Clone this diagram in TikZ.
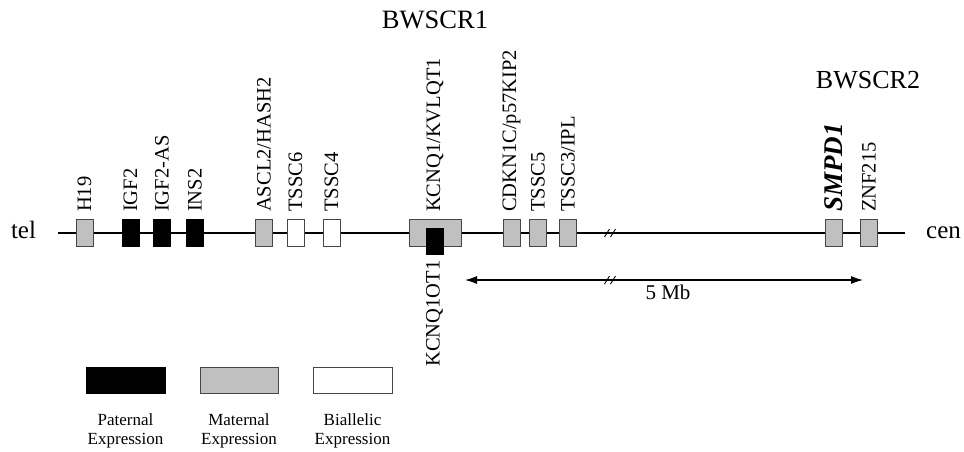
\documentclass[tikz,border=0pt]{standalone}
\usepackage{fontspec}
\setmainfont{Liberation Serif}
\usepackage{xcolor}
\usepackage{tikz}
\definecolor{maternalgray}{RGB}{192,192,192}
\definecolor{boxline}{RGB}{70,70,70}
\usetikzlibrary{arrows.meta, positioning, calc}

\tikzset{brk/.pic={\draw[line width=0.9pt] (-5.5,4) -- (-0.5,-4) (0.5,4) -- (5.5,-4);}}

\begin{document}
\begin{tikzpicture}[
    x=1pt, y=-1pt,
    gene/.style={rectangle, draw=boxline, line width=0.9pt, minimum width=17pt, minimum height=27pt, inner sep=0pt},
    paternal/.style={gene, fill=black, draw=black},
    maternal/.style={gene, fill=maternalgray},
    biallelic/.style={gene, fill=white},
    glabel/.style={rotate=90, anchor=west, inner sep=7pt, font=\fontsize{20.5}{24}\selectfont},
    region/.style={font=\fontsize{26.5}{30}\selectfont, anchor=base},
    legtext/.style={align=center, inner sep=0pt, font=\fontsize{17}{19}\selectfont}
]
    \useasboundingbox[fill=white] (0,0) rectangle (964,451);

    % chromosome
    \coordinate (chrL) at (58,233);
    \coordinate (chrR) at (905,233);
    \draw[line width=1.1pt] (chrL) -- (chrR);
    \pic at (610,233) {brk};
    \node[region, font=\fontsize{25}{28}\selectfont] (tel) at (23.5,238) {tel};
    \node[region, font=\fontsize{25}{28}\selectfont] (cen) at (943.5,238) {cen};

    % region labels
    \node[region] (bwscr1) at (435,28) {BWSCR1};
    \node[region, font=\fontsize{26}{30}\selectfont] (bwscr2) at (868,88) {BWSCR2};

    % genes
    \node[maternal, label={[glabel]90:H19}] (h19) at (84.5,233) {};
    \node[paternal, label={[glabel]90:IGF2}] (igf2) at (130.5,233) {};
    \node[paternal, label={[glabel]90:IGF2-AS}] (igf2as) at (162,233) {};
    \node[paternal, label={[glabel]90:INS2}] (ins2) at (195,233) {};
    \node[maternal, label={[glabel]90:ASCL2/HASH2}] (ascl2) at (264,233) {};
    \node[biallelic, label={[glabel]90:TSSC6}] (tssc6) at (295.5,233) {};
    \node[biallelic, label={[glabel]90:TSSC4}] (tssc4) at (331.5,233) {};
    \node[maternal, minimum width=52pt, label={[glabel]90:KCNQ1/KVLQT1}] (kcnq1) at (435,233) {};
    \node[paternal, minimum height=26pt, label={[glabel, anchor=east, inner sep=6pt]-90:KCNQ1OT1}] (kcnq1ot1) at (434.5,241) {};
    \node[maternal, label={[glabel]90:CDKN1C/p57KIP2}] (cdkn1c) at (511.5,233) {};
    \node[maternal, label={[glabel]90:TSSC5}] (tssc5) at (538,233) {};
    \node[maternal, label={[glabel]90:TSSC3/IPL}] (tssc3) at (568,233) {};
    \node[maternal, label={[glabel, font=\fontsize{27}{30}\selectfont\bfseries\itshape]90:SMPD1}] (smpd1) at (834,233) {};
    \node[maternal, label={[glabel]90:ZNF215}] (znf215) at (869,233) {};

    % distance
    \coordinate (mbL) at (465,280);
    \coordinate (mbR) at (863,280);
    \draw[line width=1.1pt, {Latex[length=12pt,width=8pt]}-{Latex[length=12pt,width=8pt]}] (mbL) -- (mbR);
    \pic at (610,280) {brk};
    \node[region, font=\fontsize{21}{24}\selectfont] (mb) at (668,299) {5 Mb};

    % legend
    \node[paternal, minimum width=79pt, minimum height=26pt] (patbox) at (125.5,380) {};
    \node[maternal, minimum width=78pt, minimum height=26pt] (matbox) at (239,380) {};
    \node[biallelic, minimum width=79pt, minimum height=26pt] (bibox) at (352.5,380) {};
    \node[legtext, below=20pt of patbox] (pattext) {Paternal\\Expression};
    \node[legtext, below=20pt of matbox] (mattext) {Maternal\\Expression};
    \node[legtext, below=20pt of bibox] (bitext) {Biallelic\\Expression};
\end{tikzpicture}
\end{document}
